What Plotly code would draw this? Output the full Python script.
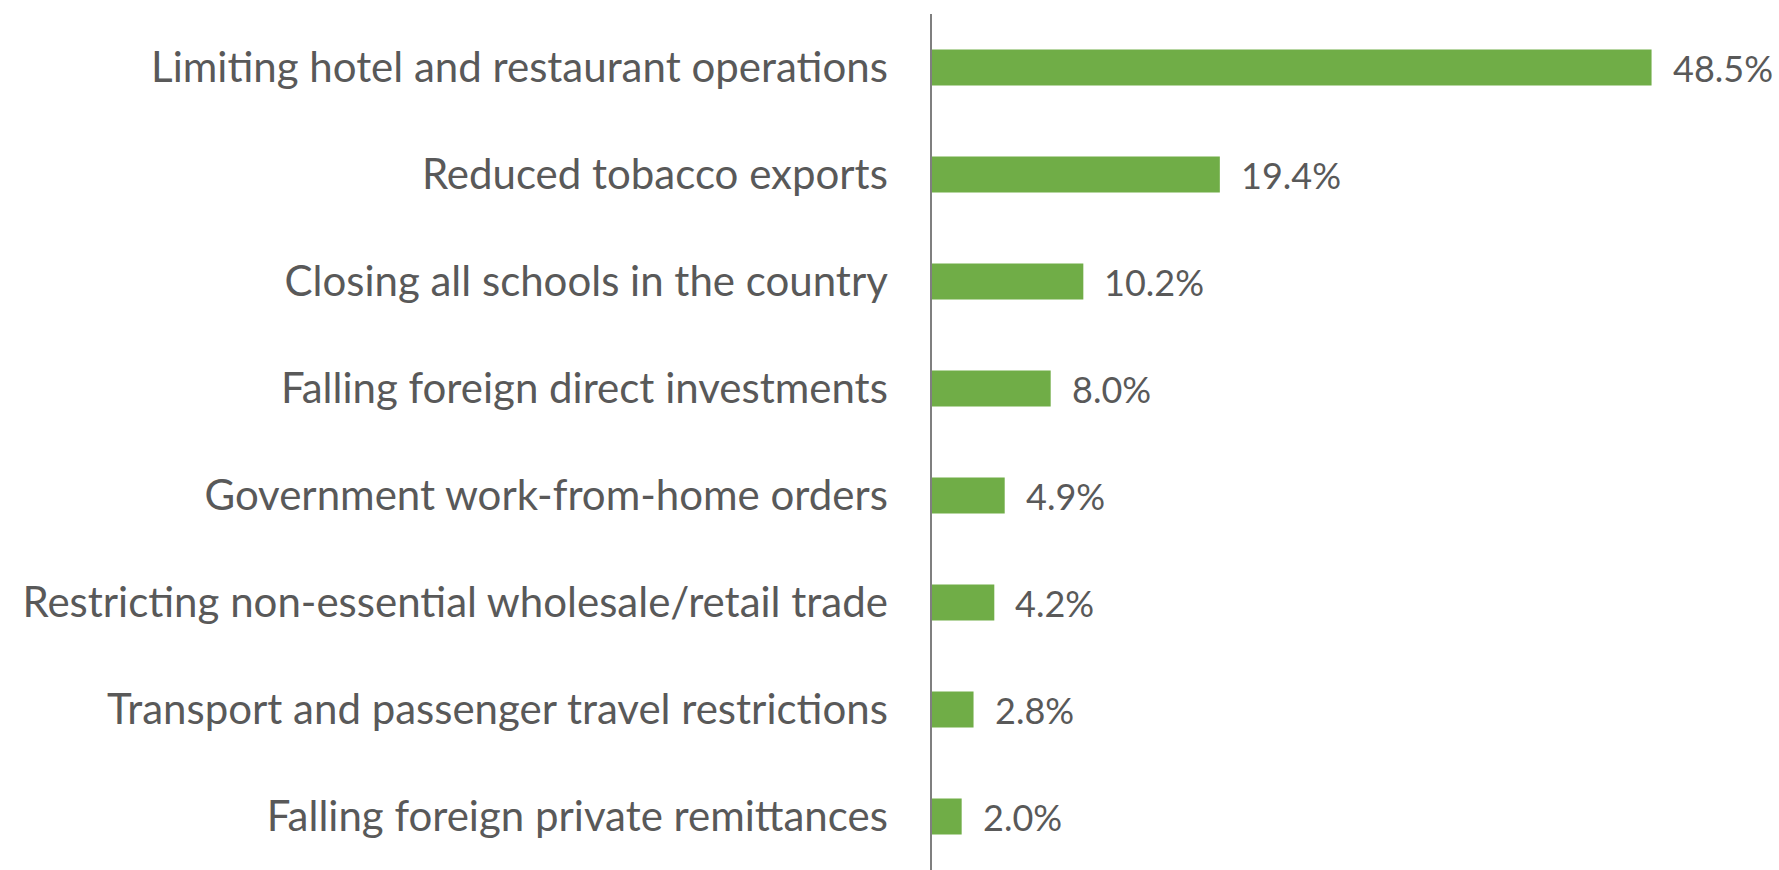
import plotly.graph_objects as go

categories = [
    "Limiting hotel and restaurant operations",
    "Reduced tobacco exports",
    "Closing all schools in the country",
    "Falling foreign direct investments",
    "Government work-from-home orders",
    "Restricting non-essential wholesale/retail trade",
    "Transport and passenger travel restrictions",
    "Falling foreign private remittances",
]
shares = [48.5, 19.4, 10.2, 8.0, 4.9, 4.2, 2.8, 2.0]

BAR_COLOR = "#70AD47"
TEXT_COLOR = "#595959"
FONT = "Lato"

fig = go.Figure(
    go.Bar(
        x=shares,
        y=categories,
        orientation="h",
        marker=dict(color=BAR_COLOR, line=dict(width=0)),
        hoverinfo="skip",
    )
)

# value labels to the right of each bar
for cat, v in zip(categories, shares):
    fig.add_annotation(
        x=v, y=cat, text=f"{v:.1f}%", showarrow=False,
        xanchor="left", yanchor="middle", xshift=19,
        font=dict(family=FONT, size=36, color=TEXT_COLOR),
    )

fig.update_layout(
    width=1779, height=870,
    margin=dict(l=932, r=31, t=14, b=0),
    paper_bgcolor="white", plot_bgcolor="white",
    bargap=0.664,
    showlegend=False,
    font=dict(family=FONT, color=TEXT_COLOR),
)
fig.update_xaxes(
    range=[0, 55], visible=False, showgrid=False, zeroline=False,
)
fig.update_yaxes(
    autorange="reversed",
    showline=True, linecolor="#7f7f7f", linewidth=1.5,
    ticks="", showgrid=False,
    tickfont=dict(family=FONT, size=42, color=TEXT_COLOR),
    ticklabelstandoff=34,
)

fig.write_html("out.html")
